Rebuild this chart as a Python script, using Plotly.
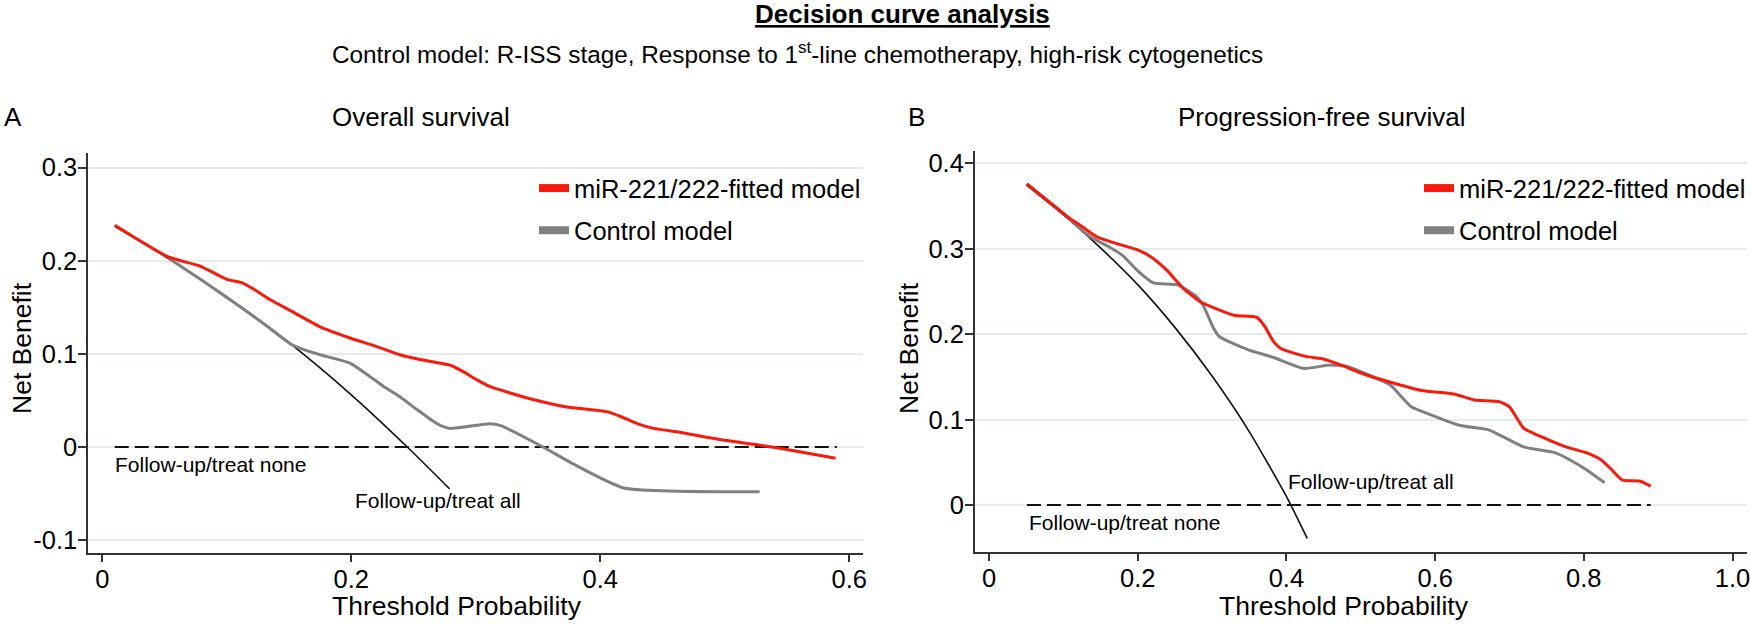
import plotly.graph_objects as go

W, H = 1750, 624

# ---------------- data ----------------
# Panel A: Overall survival
os_red_x = [0.010, 0.053, 0.079, 0.100, 0.113, 0.121, 0.135, 0.153, 0.175, 0.199, 0.220, 0.239, 0.255, 0.279,
            0.287, 0.301, 0.311, 0.325, 0.346, 0.373, 0.405, 0.416, 0.432, 0.443, 0.467, 0.496, 0.528, 0.560, 0.589]
os_red_y = [0.238, 0.204, 0.194, 0.180, 0.176, 0.170, 0.158, 0.145, 0.129, 0.117, 0.108, 0.099, 0.094, 0.088,
            0.083, 0.072, 0.065, 0.059, 0.051, 0.043, 0.038, 0.033, 0.024, 0.020, 0.015, 0.008, 0.002, -0.005, -0.012]
os_gray_x = [0.053, 0.080, 0.105, 0.130, 0.152, 0.163, 0.175, 0.199, 0.226, 0.239, 0.253, 0.269, 0.279, 0.311,
             0.320, 0.354, 0.378, 0.419, 0.528]
os_gray_y = [0.203, 0.179, 0.156, 0.132, 0.110, 0.104, 0.099, 0.090, 0.065, 0.054, 0.040, 0.025, 0.020, 0.025,
             0.023, 0.000, -0.018, -0.044, -0.048]
os_all_x = [0.010, 0.050, 0.100, 0.150, 0.200, 0.245, 0.279]
os_all_y = [0.237, 0.205, 0.161, 0.112, 0.056, 0.000, -0.045]
os_none_x = [0.010, 0.590]
os_none_y = [0.0, 0.0]

# Panel B: Progression-free survival
pfs_red_x = [0.051, 0.105, 0.122, 0.145, 0.172, 0.199, 0.217, 0.239, 0.261, 0.284, 0.311, 0.331, 0.360, 0.371,
             0.383, 0.393, 0.426, 0.450, 0.473, 0.502, 0.539, 0.582, 0.625, 0.653, 0.686, 0.700, 0.719, 0.748,
             0.776, 0.804, 0.823, 0.838, 0.852, 0.875, 0.890]
pfs_red_y = [0.376, 0.338, 0.328, 0.314, 0.306, 0.299, 0.291, 0.275, 0.254, 0.238, 0.228, 0.222, 0.220, 0.209,
             0.191, 0.183, 0.174, 0.171, 0.164, 0.154, 0.144, 0.134, 0.130, 0.123, 0.121, 0.115, 0.090, 0.078,
             0.068, 0.061, 0.053, 0.041, 0.029, 0.028, 0.022]
pfs_gray_x = [0.051, 0.105, 0.122, 0.140, 0.160, 0.180, 0.199, 0.221, 0.253, 0.279, 0.288, 0.302, 0.310, 0.348,
              0.382, 0.423, 0.459, 0.483, 0.511, 0.539, 0.568, 0.596, 0.634, 0.672, 0.691, 0.719, 0.762, 0.781,
              0.804, 0.828]
pfs_gray_y = [0.376, 0.338, 0.324, 0.312, 0.303, 0.292, 0.275, 0.260, 0.258, 0.244, 0.234, 0.207, 0.197, 0.182,
              0.173, 0.160, 0.164, 0.162, 0.152, 0.141, 0.115, 0.105, 0.093, 0.088, 0.080, 0.068, 0.061, 0.053,
              0.041, 0.026]
pfs_all_x = [0.05, 0.10, 0.15, 0.20, 0.25, 0.30, 0.35, 0.40, 0.428]
pfs_all_y = [0.375, 0.340, 0.301, 0.258, 0.208, 0.151, 0.086, 0.010, -0.039]
pfs_none_x = [0.051, 0.890]
pfs_none_y = [0.0, 0.0]

os_xticks = [0, 0.2, 0.4, 0.6]
os_xlabels = ["0", "0.2", "0.4", "0.6"]
os_yticks = [-0.1, 0, 0.1, 0.2, 0.3]
os_ylabels = ["-0.1", "0", "0.1", "0.2", "0.3"]
pfs_xticks = [0, 0.2, 0.4, 0.6, 0.8, 1.0]
pfs_xlabels = ["0", "0.2", "0.4", "0.6", "0.8", "1.0"]
pfs_yticks = [0, 0.1, 0.2, 0.3, 0.4]
pfs_ylabels = ["0", "0.1", "0.2", "0.3", "0.4"]

series_names = ["miR-221/222-fitted model", "Control model"]

# ---------------- styling ----------------
RED = "#f81a0c"
GRAY = "#808080"
BLACK = "#111111"
AXC = "#333333"
GRID = "#e2edf0"
FONT = "Liberation Sans, Arial, sans-serif"


def px(xp):
    return xp / W


def py(yp):
    return 1 - yp / H


fig = go.Figure()


def add_panel(xa, ya, all_x, all_y, none_x, none_y, gray_x, gray_y, red_x, red_y, leg):
    fig.add_trace(go.Scatter(x=all_x, y=all_y, mode="lines", xaxis=xa, yaxis=ya, showlegend=False,
                             line=dict(color=BLACK, width=1.6, shape="spline", smoothing=0.6), hoverinfo="skip"))
    fig.add_trace(go.Scatter(x=none_x, y=none_y, mode="lines", xaxis=xa, yaxis=ya, showlegend=False,
                             line=dict(color=BLACK, width=2, dash="14px,6px"), hoverinfo="skip"))
    fig.add_trace(go.Scatter(x=gray_x, y=gray_y, mode="lines", xaxis=xa, yaxis=ya, showlegend=False,
                             line=dict(color=GRAY, width=3, shape="spline", smoothing=0.5)))
    fig.add_trace(go.Scatter(x=red_x, y=red_y, mode="lines", xaxis=xa, yaxis=ya, showlegend=False,
                             line=dict(color=RED, width=3, shape="spline", smoothing=0.5)))
    # legend entries
    for name, col, grp in [(series_names[0], RED, "r"), (series_names[1], GRAY, "g")]:
        fig.add_trace(go.Scatter(x=[None], y=[None], mode="lines", xaxis=xa, yaxis=ya, name=name,
                                 legend=leg, legendgroup=grp + leg, line=dict(color=col, width=8)))


add_panel("x", "y", os_all_x, os_all_y, os_none_x, os_none_y, os_gray_x, os_gray_y, os_red_x, os_red_y, "legend")
add_panel("x2", "y2", pfs_all_x, pfs_all_y, pfs_none_x, pfs_none_y, pfs_gray_x, pfs_gray_y, pfs_red_x, pfs_red_y,
          "legend2")

common_x = dict(ticks="outside", ticklen=7, tickwidth=1.5, tickcolor=AXC, showline=True, linecolor=AXC,
                linewidth=2, showgrid=False, zeroline=False, ticklabelstandoff=-5, ticklabeloverflow="allow",
                tickfont=dict(size=25.5, color="black"))
common_y = dict(ticks="outside", ticklen=8, tickwidth=1.5, tickcolor=AXC, showline=True, linecolor=AXC,
                linewidth=2, showgrid=True, gridcolor=GRID, gridwidth=1.5, zeroline=False, ticklabelstandoff=-4,
                ticklabeloverflow="allow", tickfont=dict(size=25.5, color="black"))

fig.update_layout(
    width=W, height=H,
    margin=dict(l=0, r=0, t=0, b=0, autoexpand=False),
    paper_bgcolor="white", plot_bgcolor="white",
    font=dict(family=FONT, color="black"),
    xaxis=dict(domain=[px(88.3), px(862.7)], range=[-0.01124, 0.6108], tickvals=os_xticks, ticktext=os_xlabels,
               anchor="y", **common_x),
    yaxis=dict(domain=[py(553), py(153.3)], range=[-0.1138, 0.3153], tickvals=os_yticks, ticktext=os_ylabels,
               anchor="x", **common_y),
    xaxis2=dict(domain=[px(975), px(1747)], range=[-0.01883, 1.0195], tickvals=pfs_xticks, ticktext=pfs_xlabels,
                anchor="y2", **common_x),
    yaxis2=dict(domain=[py(552), py(150.7)], range=[-0.05504, 0.41487], tickvals=pfs_yticks,
                ticktext=pfs_ylabels, anchor="x2", **common_y),
    legend=dict(x=px(534), y=py(165), xanchor="left", yanchor="top", bgcolor="rgba(0,0,0,0)",
                font=dict(size=25.5, color="black"), tracegroupgap=6, itemclick=False),
    legend2=dict(x=px(1419), y=py(165), xanchor="left", yanchor="top", bgcolor="rgba(0,0,0,0)",
                 font=dict(size=25.5, color="black"), tracegroupgap=6, itemclick=False),
    showlegend=True,
)

ann = []
# Titles
ann.append(dict(text="<b><u>Decision curve analysis</u></b>", x=px(902.5), y=py(14), xref="paper", yref="paper",
                xanchor="center", yanchor="middle", showarrow=False, font=dict(size=26)))
ann.append(dict(text="Control model: R-ISS stage, Response to 1<sup>st</sup>-line chemotherapy, high-risk cytogenetics",
                x=px(330), y=py(53), xref="paper", yref="paper", xanchor="left", yanchor="middle",
                showarrow=False, font=dict(size=24.3)))
# Panel labels & titles
for txt, xl in [("A", 2), ("Overall survival", 330), ("B", 906), ("Progression-free survival", 1176)]:
    ann.append(dict(text=txt, x=px(xl), y=py(117), xref="paper", yref="paper", xanchor="left", yanchor="middle",
                    showarrow=False, font=dict(size=26)))
# Axis titles
for xc in [22, 909]:
    ann.append(dict(text="Net Benefit", x=px(xc), y=py(348), xref="paper", yref="paper", xanchor="center",
                    yanchor="middle", textangle=-90, showarrow=False, font=dict(size=26.5)))
for xc in [457, 1344]:
    ann.append(dict(text="Threshold Probability", x=px(xc), y=py(606), xref="paper", yref="paper",
                    xanchor="center", yanchor="middle", showarrow=False, font=dict(size=26.5)))
# Reference-line labels
ann.append(dict(text="Follow-up/treat none", x=0.0086, y=-0.019, xref="x", yref="y", xanchor="left",
                yanchor="middle", showarrow=False, font=dict(size=21)))
ann.append(dict(text="Follow-up/treat all", x=0.201, y=-0.057, xref="x", yref="y", xanchor="left",
                yanchor="middle", showarrow=False, font=dict(size=21)))
ann.append(dict(text="Follow-up/treat none", x=0.0507, y=-0.021, xref="x2", yref="y2", xanchor="left",
                yanchor="middle", showarrow=False, font=dict(size=21)))
ann.append(dict(text="Follow-up/treat all", x=0.3995, y=0.0273, xref="x2", yref="y2", xanchor="left",
                yanchor="middle", showarrow=False, font=dict(size=21)))
fig.update_layout(annotations=ann)

fig.write_html("out.html", config={"displayModeBar": False},
               post_script="document.body.style.margin='0';document.body.style.overflow='hidden';")
